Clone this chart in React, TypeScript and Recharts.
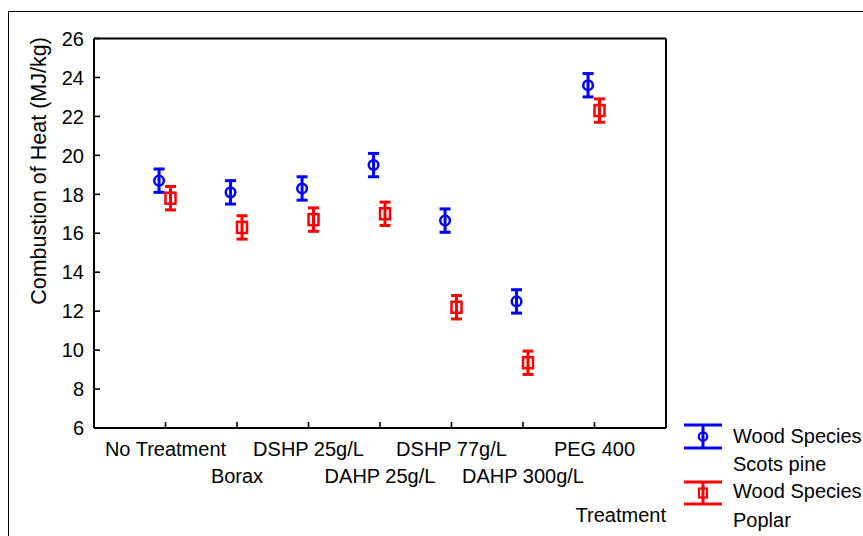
import React from 'react';
import { ComposedChart, Scatter, XAxis, YAxis, ErrorBar, Legend } from 'recharts';

const categories = ['No Treatment', 'Borax', 'DSHP 25g/L', 'DAHP 25g/L', 'DSHP 77g/L', 'DAHP 300g/L', 'PEG 400'];
const scotsPine = [18.7, 18.1, 18.3, 19.5, 16.65, 12.5, 23.6];
const scotsPineErr = [0.6, 0.6, 0.6, 0.6, 0.6, 0.6, 0.6];
const poplar = [17.8, 16.3, 16.7, 17.0, 12.2, 9.35, 22.3];
const poplarErr = [0.6, 0.6, 0.6, 0.6, 0.6, 0.6, 0.6];
const yTicks = [6, 8, 10, 12, 14, 16, 18, 20, 22, 24, 26];
const xTicks = categories.map((_, i) => i + 1);

const PINE_SHIFT = -0.09;
const POPLAR_SHIFT = 0.07;

const pineData = scotsPine.map((v, i) => ({ x: i + 1 + PINE_SHIFT, y: v, err: scotsPineErr[i] }));
const poplarData = poplar.map((v, i) => ({ x: i + 1 + POPLAR_SHIFT, y: v, err: poplarErr[i] }));

const FONT = '"Liberation Sans", Arial, sans-serif';
const BLUE = '#0000ff';
const RED = '#ff0000';

const XTick = (props: any) => {
  const { x, y, payload } = props;
  const idx = Math.round(payload.value) - 1;
  const label = categories[idx] ?? '';
  const row = idx % 2;
  return (
    <text x={x} y={y + (row === 0 ? 28 : 54.7)} textAnchor="middle" fontSize={20} fontFamily={FONT} fill="#000">
      {label}
    </text>
  );
};

const YTick = (props: any) => {
  const { x, y, payload } = props;
  return (
    <text x={x} y={y} dy="0.36em" textAnchor="end" fontSize={20} fontFamily={FONT} fill="#000">
      {payload.value}
    </text>
  );
};

const CircleShape = (props: any) => {
  const { cx, cy } = props;
  return <circle cx={cx} cy={cy} r={4.8} fill="none" stroke={BLUE} strokeWidth={2.5} />;
};

const SquareShape = (props: any) => {
  const { cx, cy } = props;
  return <rect x={cx - 5} y={cy - 5.5} width={10} height={11} fill="none" stroke={RED} strokeWidth={2.5} />;
};

const LegendContent = () => (
  <svg width={188} height={121} style={{ display: 'block', overflow: 'hidden' }}>
    <g stroke={BLUE} strokeWidth={3} fill="none">
      <line x1={9} y1={10} x2={47} y2={10} />
      <line x1={9} y1={33} x2={47} y2={33} />
      <line x1={28} y1={10} x2={28} y2={33} />
      <circle cx={28} cy={21.5} r={4.2} strokeWidth={2.2} />
    </g>
    <g stroke={RED} strokeWidth={3} fill="none">
      <line x1={9} y1={67} x2={47} y2={67} />
      <line x1={9} y1={89} x2={47} y2={89} />
      <line x1={28} y1={67} x2={28} y2={89} />
      <rect x={24} y={73.5} width={8} height={9} strokeWidth={2.2} />
    </g>
    <g fontFamily={FONT} fontSize={20} fill="#000">
      <text x={58} y={28}>Wood Species</text>
      <text x={58} y={56}>Scots pine</text>
      <text x={58} y={83}>Wood Species</text>
      <text x={58} y={111.5}>Poplar</text>
    </g>
  </svg>
);

export default function App() {
  return (
    <div style={{ position: 'absolute', left: 0, top: 0, width: 863, height: 536, overflow: 'hidden', background: '#fff' }}>
      <div style={{ position: 'absolute', left: 7.5, top: 11, width: 1000, height: 1000, borderTop: '1.6px solid #000', borderLeft: '1.6px solid #000' }} />
      <div style={{ position: 'absolute', left: 0, top: 0 }}>
        <ComposedChart width={863} height={536} margin={{ top: 37.5, right: 196, bottom: 0, left: 0 }}>
          <XAxis
            xAxisId="b"
            type="number"
            dataKey="x"
            domain={[0, 8]}
            ticks={xTicks}
            interval={0}
            orientation="bottom"
            height={108}
            tickSize={-6}
            tickMargin={6}
            axisLine={{ stroke: '#000', strokeWidth: 2 }}
            tickLine={{ stroke: '#000', strokeWidth: 1.6 }}
            tick={<XTick />}
            allowDataOverflow
            label={(p: any) => (
              <text x={666} y={522} textAnchor="end" fontSize={20} fontFamily={FONT} fill="#000">Treatment</text>
            )}
          />
          <XAxis
            xAxisId="t"
            type="number"
            domain={[0, 8]}
            ticks={xTicks}
            interval={0}
            orientation="top"
            height={1}
            tickSize={-6}
            axisLine={{ stroke: '#000', strokeWidth: 2 }}
            tickLine={{ stroke: '#000', strokeWidth: 1.6 }}
            tick={false}
            allowDataOverflow
          />
          <YAxis
            yAxisId="l"
            type="number"
            domain={[6, 26]}
            ticks={yTicks}
            interval={0}
            width={94}
            tickSize={-6}
            tickMargin={16}
            axisLine={{ stroke: '#000', strokeWidth: 2 }}
            tickLine={{ stroke: '#000', strokeWidth: 1.6 }}
            tick={<YTick />}
            allowDataOverflow
            label={(p: any) => (
              <text x={46} y={171} textAnchor="middle" fontSize={21.5} fontFamily={FONT} fill="#000" transform="rotate(-90 46 171)">
                Combustion of Heat (MJ/kg)
              </text>
            )}
          />
          <YAxis
            yAxisId="r"
            type="number"
            orientation="right"
            domain={[6, 26]}
            ticks={yTicks}
            interval={0}
            width={1}
            tickSize={-6}
            axisLine={{ stroke: '#000', strokeWidth: 2 }}
            tickLine={{ stroke: '#000', strokeWidth: 1.6 }}
            tick={false}
            allowDataOverflow
          />
          <Scatter name="Wood Species Scots pine" data={pineData} xAxisId="b" yAxisId="l" dataKey="y" shape={<CircleShape />} isAnimationActive={false}>
            <ErrorBar dataKey="err" direction="y" width={5.5} stroke={BLUE} strokeWidth={3} isAnimationActive={false} />
          </Scatter>
          <Scatter name="Wood Species Poplar" data={poplarData} xAxisId="b" yAxisId="l" dataKey="y" shape={<SquareShape />} isAnimationActive={false}>
            <ErrorBar dataKey="err" direction="y" width={5.5} stroke={RED} strokeWidth={3} isAnimationActive={false} />
          </Scatter>
          <Legend
            layout="vertical"
            align="center"
            verticalAlign="middle"
            content={<LegendContent />}
            wrapperStyle={{ left: 675, top: 415, width: 188, height: 121, overflow: 'hidden' }}
          />
        </ComposedChart>
      </div>
    </div>
  );
}
